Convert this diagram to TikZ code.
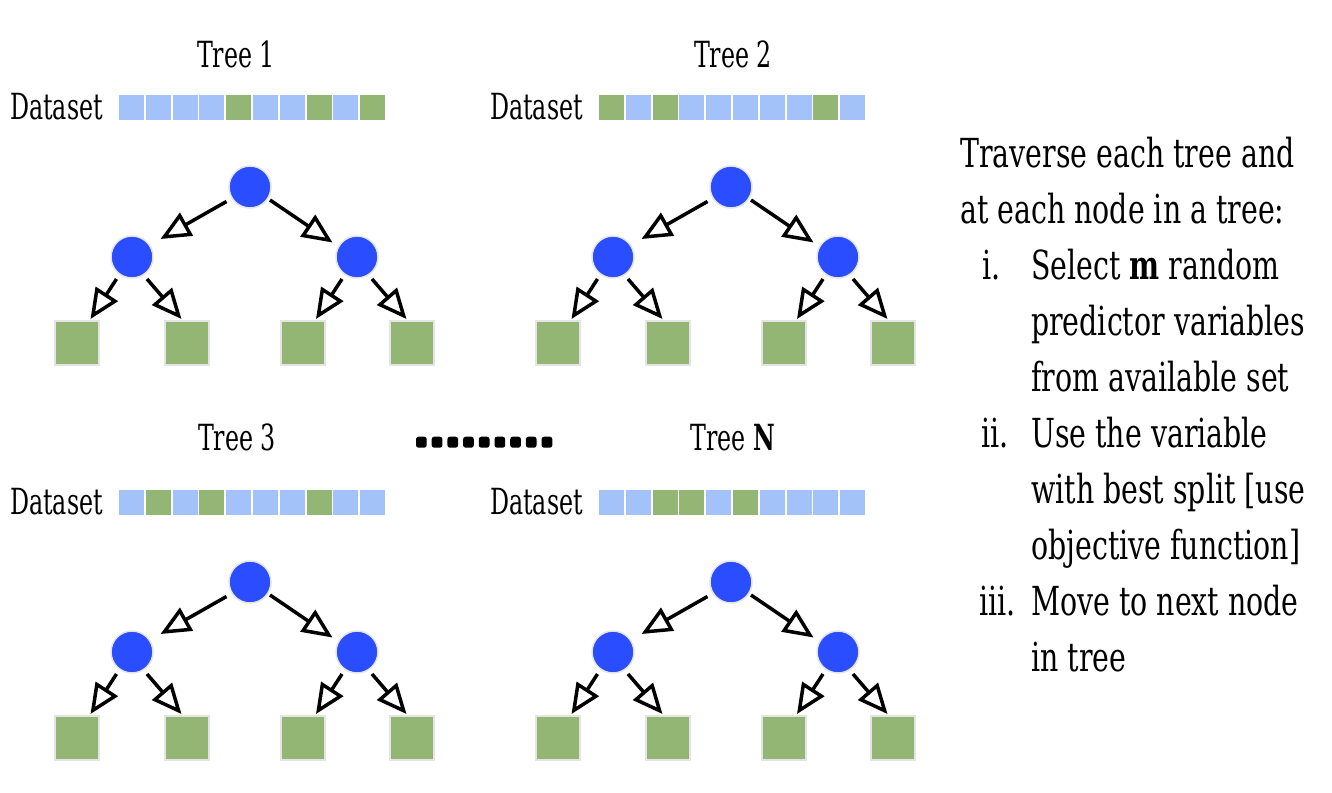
\documentclass[tikz,border=0pt]{standalone}
\usepackage{fontspec}
\setmainfont{DejaVu Serif}[FakeStretch=0.66]
\newfontfamily\sidefont{DejaVu Serif}[FakeStretch=0.71]
\usetikzlibrary{arrows.meta,calc}
\definecolor{nodeblue}{RGB}{42,78,255}
\definecolor{rimgrey}{RGB}{228,228,228}
\definecolor{leafgreen}{RGB}{148,182,116}
\definecolor{cellblue}{RGB}{164,194,250}
\tikzset{
  treenode/.style={circle, fill=nodeblue, draw=rimgrey, line width=1.5pt, minimum size=42pt, inner sep=0pt},
  leafnode/.style={rectangle, fill=leafgreen, draw=rimgrey, line width=1.5pt, minimum size=44pt, inner sep=0pt},
  cellB/.style={rectangle, fill=cellblue, minimum size=25pt, inner sep=0pt},
  cellG/.style={cellB, fill=leafgreen},
  arr/.style={line width=3.5pt, -{Triangle[open, length=30pt, width=26pt]}},
  lbl/.style={font=\fontsize{36}{36}\selectfont, inner sep=0pt},
  side/.style={font=\sidefont\fontsize{40}{40}\selectfont, inner sep=0pt, anchor=base west},
  dotbox/.style={fill=black, rounded corners=2.5pt},
}
\newcommand{\mytree}[3]{%
  \coordinate (#1o) at (#2,#3);
  \node[treenode] (#1r) at (#1o) {};
  \node[treenode] (#1a) at ($(#1o)+(-118,70)$) {};
  \node[treenode] (#1b) at ($(#1o)+(107,70)$) {};
  \node[leafnode] (#1l1) at ($(#1o)+(-173,156)$) {};
  \node[leafnode] (#1l2) at ($(#1o)+(-63,156)$) {};
  \node[leafnode] (#1l3) at ($(#1o)+(53,156)$) {};
  \node[leafnode] (#1l4) at ($(#1o)+(162,156)$) {};
  \draw[arr] ($(#1r)+(-23.5,14.5)$) -- ($(#1a)+(28.5,-18)$);
  \draw[arr] ($(#1r)+(20,13)$) -- ($(#1b)+(-24.5,-14.5)$);
  \draw[arr] ($(#1a)+(-15.5,22)$) -- ($(#1l1)+(13.5,-24)$);
  \draw[arr] ($(#1a)+(15,22)$) -- ($(#1l2)+(-5.5,-24)$);
  \draw[arr] ($(#1b)+(-15,22)$) -- ($(#1l3)+(13,-24)$);
  \draw[arr] ($(#1b)+(15,22)$) -- ($(#1l4)+(-5.5,-24)$);
}
\newcommand{\mybar}[4]{%
  \foreach \c [count=\i from 0] in {#4} {
    \node[cell\c] (#1c\i) at (#2+12.5+\i*26.8, #3) {};
  }
}
\begin{document}
\begin{tikzpicture}[x=1pt,y=-1pt]
\useasboundingbox (0,0) rectangle (1332,792);
% titles and datasets
\node[lbl, anchor=base] (t1title) at (236,67) {Tree 1};
\node[lbl, anchor=base] (t2title) at (733,67) {Tree 2};
\node[lbl, anchor=base] (t3title) at (237,450) {Tree 3};
\node[lbl, anchor=base] (t4title) at (733,450) {Tree \textbf{N}};
\node[lbl, anchor=base west] (t1data) at (10,119) {Dataset};
\node[lbl, anchor=base west] (t2data) at (490,119) {Dataset};
\node[lbl, anchor=base west] (t3data) at (10,514) {Dataset};
\node[lbl, anchor=base west] (t4data) at (490,514) {Dataset};
\mybar{ba}{119}{107}{B,B,B,B,G,B,B,G,B,G}
\mybar{bb}{599}{107}{G,B,G,B,B,B,B,B,G,B}
\mybar{bc}{119}{502}{B,G,B,G,B,B,B,G,B,B}
\mybar{bd}{599}{502}{B,B,G,G,B,G,B,B,B,B}
% trees
\mytree{ta}{250}{187}
\mytree{tb}{731}{187}
\mytree{tc}{250}{582}
\mytree{td}{731}{582}
% dots
\foreach \k in {0,...,8} {
  \path[dotbox] (416+\k*15.7, 436.7) rectangle ++(10.7,11);
}
% right text
\node[side] (s1) at (960,167) {Traverse each tree and};
\node[side] (s2) at (960,223) {at each node in a tree:};
\node[side] (n1) at (982,279) {i.};
\node[side] (s3) at (1031,279) {Select \textbf{m} random};
\node[side] (s4) at (1031,335) {predictor variables};
\node[side] (s5) at (1031,391) {from available set};
\node[side] (n2) at (981,447) {ii.};
\node[side] (s6) at (1031,447) {Use the variable};
\node[side] (s7) at (1031,503) {with best split [use};
\node[side] (s8) at (1031,559) {objective function]};
\node[side] (n3) at (979,615) {iii.};
\node[side] (s9) at (1031,615) {Move to next node};
\node[side] (s10) at (1031,671) {in tree};
\end{tikzpicture}
\end{document}
